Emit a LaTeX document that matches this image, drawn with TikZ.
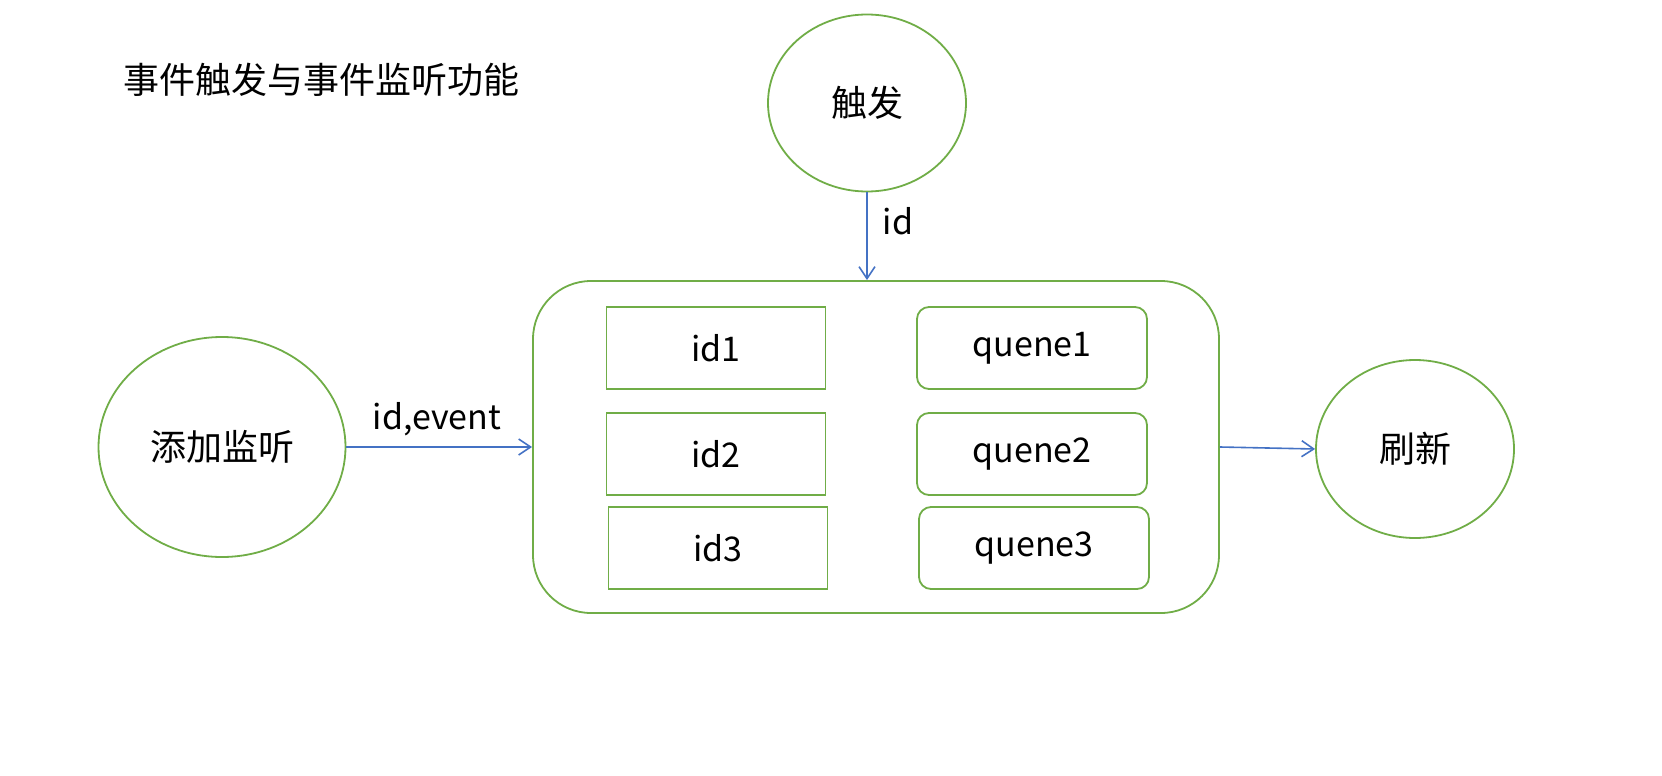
\documentclass[tikz,border=0pt]{standalone}
\usepackage{fontspec}
\setmainfont{Noto Sans CJK SC}
\usetikzlibrary{shapes.geometric,arrows.meta}
\definecolor{ogreen}{HTML}{70AD47}
\definecolor{oblue}{HTML}{4472C4}
\begin{document}
\begin{tikzpicture}[x=1pt,y=-1pt,
        every node/.style={font=\fontsize{34}{40}\selectfont},
        cjk/.style={font=\fontsize{36}{42}\selectfont},
        oval/.style={cjk,draw=ogreen,line width=1.8pt,ellipse,inner sep=0pt},
        idbox/.style={draw=ogreen,line width=1.8pt,minimum width=219pt,minimum height=82pt},
        qbox/.style={draw=ogreen,line width=1.8pt,rounded corners=12pt,minimum width=230pt,minimum height=82pt},
        link/.style={draw=oblue,line width=1.6pt,-{Straight Barb[length=12pt,width=16pt]}}]
        \useasboundingbox (0,0) rectangle (1662,776);

        \node[cjk,anchor=west] (title) at (120,80) {事件触发与事件监听功能};

        \node[oval,minimum width=198pt,minimum height=177pt] (trig) at (867,103) {触发};
        \node[oval,minimum width=247pt,minimum height=220pt] (add) at (222,447) {添加监听};
        \node[oval,minimum width=198pt,minimum height=178pt] (fresh) at (1415,449) {刷新};

        \node[draw=ogreen,line width=1.8pt,rounded corners=58pt,minimum width=686pt,minimum height=332pt] (store) at (876,447) {};

        \node[idbox] (id1) at (716,348) {id1};
        \node[idbox] (id2) at (716,454) {id2};
        \node[idbox] (id3) at (718,548) {id3};
        \node[qbox] (q1) at (1032,348) {quene1};
        \node[qbox] (q2) at (1032,454) {quene2};
        \node[qbox] (q3) at (1034,548) {quene3};

        \draw[link] (trig.south) -- (trig.south |- store.north);
        \node (idlab) at (898,221) {id};
        \draw[link] (add.east) -- (store.west);
        \node (evlab) at (437,419) {id,event};
        \draw[link] (store.east) -- (fresh.west);
    \end{tikzpicture}
\end{document}
